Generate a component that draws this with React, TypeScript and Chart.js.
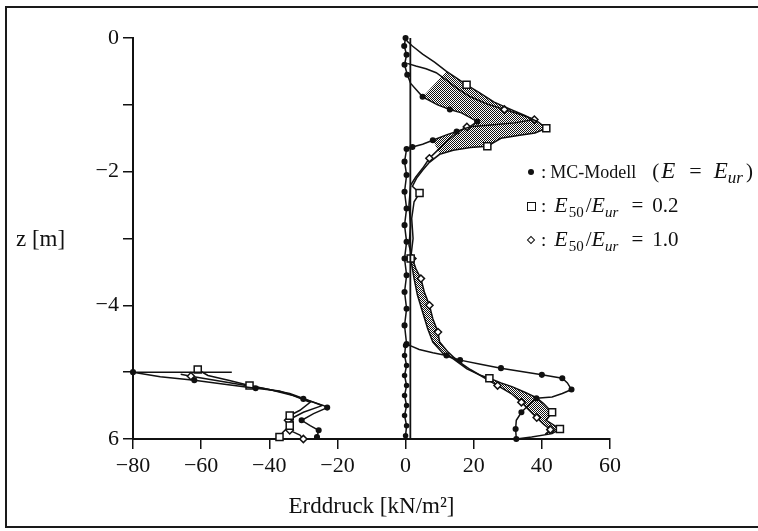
import React, { useEffect, useRef } from 'react';
import { Chart, registerables } from 'chart.js';

Chart.register(...registerables);

type P = [number, number];

const SERIF = '"Liberation Serif", "DejaVu Serif", serif';

// axis ticks
const xTickValues = [-80, -60, -40, -20, 0, 20, 40, 60];
const xTickLabels = ['−80', '−60', '−40', '−20', '0', '20', '40', '60'];
const yTickValues = [0, -1, -2, -3, -4, -5, -6];
const yTickLabels = ['0', '', '−2', '', '−4', '', '6'];

// MC-Modell (E = Eur), filled dots — [earth pressure kN/m², z m]
const mcRight: P[] = [
  [0, 0], [-0.4, -0.12], [0.3, -0.25], [-0.3, -0.4], [0.5, -0.55], [1.5, -0.68],
  [5, -0.88], [9.4, -1.0], [13, -1.07], [16.4, -1.12], [19, -1.19], [21, -1.25],
  [18.8, -1.33], [15, -1.4], [12, -1.45], [8, -1.53], [5, -1.59], [2, -1.63],
  [0.3, -1.66], [-0.3, -1.85], [0.3, -2.05], [-0.3, -2.3], [0.3, -2.55], [-0.3, -2.8],
  [0.3, -3.05], [-0.3, -3.3], [0.3, -3.55], [-0.3, -3.8], [0.3, -4.05], [-0.3, -4.3],
  [0.3, -4.58], [4, -4.66], [8, -4.71], [12, -4.75], [16, -4.82], [22, -4.88],
  [28, -4.94], [34, -4.99], [40, -5.04], [46, -5.09], [47.5, -5.16], [48.7, -5.26],
  [46, -5.32], [43, -5.37], [38.4, -5.39], [36, -5.5], [34, -5.6], [32.5, -5.72],
  [32.3, -5.85], [32.5, -6.0],
];
const mcColumn: P[] = [
  [0, -4.6], [-0.3, -4.75], [0.3, -4.9], [-0.3, -5.05], [0.3, -5.2], [-0.3, -5.35],
  [0.3, -5.5], [-0.3, -5.65], [0.3, -5.8], [0, -5.95],
];
const mcLeft: P[] = [
  [-51, -5.0], [-80, -5.0], [-72, -5.07], [-62, -5.12], [-52, -5.19], [-44, -5.24],
  [-37, -5.28], [-30, -5.4], [-24, -5.5], [-23, -5.53], [-27, -5.62], [-30.5, -5.72],
  [-28, -5.8], [-25.5, -5.87], [-26, -5.97],
];

// E50/Eur = 0.2, squares
const s02Right: P[] = [
  [0, 0], [0.5, -0.05], [2, -0.12], [5, -0.24], [8.5, -0.36], [12, -0.5], [15, -0.6],
  [17.9, -0.7], [22, -0.83], [26, -0.96], [30, -1.05], [35, -1.16], [39, -1.26],
  [41.3, -1.35], [38, -1.42], [33, -1.46], [28, -1.5], [24, -1.62], [19, -1.64],
  [14, -1.68], [10, -1.74], [7, -1.86], [5, -1.98], [3.2, -2.1], [2, -2.22],
  [4.1, -2.32], [2.5, -2.45], [1.8, -2.7], [2.2, -3.0], [1.5, -3.3], [2.5, -3.6],
  [3.5, -3.85], [5, -4.1], [6.5, -4.35], [8, -4.55], [11, -4.72], [14, -4.8],
  [18, -4.95], [21.7, -5.04], [24.6, -5.09], [28, -5.16], [31.4, -5.22], [35, -5.3],
  [38.4, -5.38], [40.5, -5.47], [43, -5.6], [41.3, -5.72], [45.3, -5.85], [43, -5.92],
  [37, -5.97], [32.5, -6.0],
];
const s02Left: P[] = [
  [-61, -4.96], [-58, -5.05], [-52, -5.12], [-45.8, -5.2], [-40, -5.26], [-33, -5.35],
  [-28, -5.45], [-31, -5.57], [-34, -5.65], [-33, -5.73], [-34, -5.8], [-36, -5.9],
  [-37, -5.97],
];

// E50/Eur = 1.0, diamonds
const d10Right: P[] = [
  [0.5, -0.38], [3, -0.42], [6, -0.46], [9, -0.52], [12, -0.63], [15, -0.75],
  [19, -0.88], [24, -0.99], [29, -1.07], [34, -1.15], [37.8, -1.22], [32, -1.27],
  [25, -1.3], [18, -1.33], [15, -1.42], [12, -1.55], [9, -1.7], [7, -1.8], [5, -1.95],
  [3, -2.08], [1.5, -2.2], [1, -2.5], [1.5, -2.8], [1, -3.1], [2, -3.3], [3, -3.45],
  [4.5, -3.6], [5.5, -3.8], [7, -4.0], [8, -4.2], [9.5, -4.4], [10, -4.55],
  [12.5, -4.7], [15, -4.82], [19, -4.96], [23, -5.08], [27, -5.2], [31, -5.32],
  [34, -5.45], [36.5, -5.58], [38.5, -5.68], [40.5, -5.78], [42.5, -5.86], [41, -5.93],
];
const d10Left: P[] = [
  [-66, -5.03], [-63, -5.06], [-56, -5.12], [-49, -5.18], [-42, -5.24], [-34, -5.32],
  [-27, -5.45], [-24.5, -5.5], [-30, -5.6], [-34.5, -5.72], [-33, -5.8], [-34, -5.87],
  [-31, -5.94], [-30, -6.0],
];

// wall line
const wallLine: P[] = [[1.4, 0], [1.4, -6]];

// which points carry a marker
const mcRightMarks = [0, 1, 2, 3, 4, 6, 8, 11, 13, 15, 17, 18, 19, 20, 21, 22, 23, 24, 25, 26, 27, 28, 29, 30, 33, 34, 36, 38, 39, 41, 44, 46, 48, 49];
const mcColumnMarks = [0, 1, 2, 3, 4, 5, 6, 7, 8, 9];
const mcLeftMarks = [1, 3, 5, 7, 9, 11, 13, 14];
const s02RightMarks = [7, 13, 17, 25, 29, 39, 45, 47];
const s02LeftMarks = [0, 3, 8, 10, 12];
const d10RightMarks = [8, 10, 13, 17, 24, 26, 28, 30, 36, 38, 40, 42];
const d10LeftMarks = [1, 9, 11, 13];

// shaded regions, built from the curves
const hatchTop: P[] = [...s02Right.slice(5, 21), ...mcRight.slice(6, 16).reverse()];
const hatchBottom: P[] = [...s02Right.slice(29, 49), ...d10Right.slice(24, 44).reverse()];

const legendRatios = ['0.2', '1.0'];

const toXY = (pts: P[]) => pts.map(([x, y]) => ({ x, y }));

function makeHatch(ctx: CanvasRenderingContext2D) {
  const c = document.createElement('canvas');
  c.width = 2;
  c.height = 2;
  const g = c.getContext('2d')!;
  g.fillStyle = '#ffffff';
  g.fillRect(0, 0, 2, 2);
  g.fillStyle = '#111111';
  g.fillRect(0, 0, 1, 1);
  g.fillRect(1, 1, 1, 1);
  return ctx.createPattern(c, 'repeat');
}

const INK = '#111111';

function curve(pts: P[], marks: number[], style: 'circle' | 'rect' | 'rectRot', radius: number, filled: boolean) {
  return {
    type: 'line' as const,
    data: toXY(pts),
    borderColor: INK,
    borderWidth: 1.5,
    tension: 0,
    fill: false,
    clip: false,
    order: 1,
    pointStyle: style,
    pointRadius: (c: any) => (marks.includes(c.dataIndex) ? radius : 0),
    pointBorderWidth: 1.5,
    pointBorderColor: INK,
    pointBackgroundColor: filled ? INK : '#ffffff',
  };
}

function shade(pts: P[], pattern: any) {
  return {
    type: 'line' as const,
    data: toXY(pts),
    borderColor: 'rgba(0,0,0,0)',
    borderWidth: 0,
    backgroundColor: pattern,
    fill: 'shape',
    tension: 0,
    clip: false,
    order: 10,
    pointRadius: 0,
  };
}

export default function App() {
  const ref = useRef<HTMLCanvasElement>(null);

  useEffect(() => {
    const canvas = ref.current!;
    const ctx = canvas.getContext('2d')!;
    const hatch = makeHatch(ctx);
    const tickFont = { family: SERIF, size: 22 };

    const chart = new Chart(canvas, {
      type: 'line',
      data: {
        datasets: [
          shade(hatchTop, hatch),
          shade(hatchBottom, hatch),
          { ...curve(wallLine, [], 'circle', 0, true), borderWidth: 1.8 },
          curve(mcColumn, mcColumnMarks, 'circle', 2, true),
          curve(mcRight, mcRightMarks, 'circle', 2.3, true),
          curve(mcLeft, mcLeftMarks, 'circle', 2.3, true),
          curve(s02Right, s02RightMarks, 'rect', 5, false),
          curve(s02Left, s02LeftMarks, 'rect', 5, false),
          curve(d10Right, d10RightMarks, 'rectRot', 3.6, false),
          curve(d10Left, d10LeftMarks, 'rectRot', 3.6, false),
        ] as any,
      },
      options: {
        animation: false,
        responsive: false,
        devicePixelRatio: 1,
        events: [],
        layout: { padding: { left: 0, top: 38, right: 148, bottom: 0 } },
        plugins: { legend: { display: false }, tooltip: { enabled: false }, title: { display: false } },
        scales: {
          x: {
            type: 'linear',
            min: -80,
            max: 60,
            afterFit: (s: any) => { s.height = 92; },
            ticks: {
              stepSize: 20,
              autoSkip: false,
              maxRotation: 0,
              padding: 4,
              color: INK,
              font: tickFont,
              callback: (v: any) => {
                const i = xTickValues.indexOf(Number(v));
                return i >= 0 ? xTickLabels[i] : '';
              },
            },
            grid: { display: true, drawOnChartArea: false, drawTicks: true, tickLength: 10, color: INK, lineWidth: 1.5 },
            border: { display: true, color: INK, width: 2 },
          },
          y: {
            type: 'linear',
            min: -6,
            max: 0,
            afterFit: (s: any) => { s.width = 133; },
            ticks: {
              stepSize: 1,
              autoSkip: false,
              padding: 4,
              color: INK,
              font: tickFont,
              callback: (v: any) => {
                const i = yTickValues.indexOf(Number(v));
                return i >= 0 ? yTickLabels[i] : '';
              },
            },
            grid: { display: true, drawOnChartArea: false, drawTicks: true, tickLength: 10, color: INK, lineWidth: 1.5 },
            border: { display: true, color: INK, width: 2 },
          },
        },
      } as any,
    });
    return () => chart.destroy();
  }, []);

  const legendRowY = [172, 206, 240];
  const subIt = { fontSize: 15, position: 'relative' as const, top: 5, fontStyle: 'italic' as const };
  const subUp = { fontSize: 15, position: 'relative' as const, top: 5, marginLeft: 1 };
  const mathE = { fontStyle: 'italic' as const, fontSize: 22 };

  return (
    <div style={{ position: 'fixed', left: 0, top: 0, width: 758, height: 531, overflow: 'hidden', background: '#ffffff', fontFamily: SERIF, color: INK }}>
      <div style={{ position: 'absolute', left: 5, top: 6, width: 900, height: 522, boxSizing: 'border-box', borderTop: '2px solid #1a1a1a', borderLeft: '2px solid #1a1a1a', borderBottom: '2px solid #1a1a1a' }} />
      <canvas ref={ref} width={758} height={531} style={{ position: 'absolute', left: 0, top: 0, width: 758, height: 531 }} />

      <div style={{ position: 'absolute', left: 16, top: 225, fontSize: 23, lineHeight: '28px', whiteSpace: 'nowrap' }}>z [m]</div>
      <div style={{ position: 'absolute', left: 133, width: 477, top: 492, fontSize: 23, lineHeight: '28px', textAlign: 'center', whiteSpace: 'nowrap' }}>
        Erddruck [kN/m²]
      </div>

      {/* legend markers */}
      <div style={{ position: 'absolute', left: 528, top: legendRowY[0] - 3, width: 6, height: 6, borderRadius: 3, background: INK }} />
      <div style={{ position: 'absolute', left: 527, top: legendRowY[1] - 4, width: 9, height: 9, boxSizing: 'border-box', border: '1.5px solid ' + INK }} />
      <div style={{ position: 'absolute', left: 528, top: legendRowY[2] - 3, width: 6, height: 6, boxSizing: 'border-box', border: '1.5px solid ' + INK, transform: 'rotate(45deg)' }} />

      <div style={{ position: 'absolute', left: 541, top: legendRowY[0] - 13, fontSize: 19, lineHeight: '24px', whiteSpace: 'nowrap' }}>
        <span>:</span>
        <span style={{ marginLeft: 4, fontSize: 18 }}>MC-Modell</span>
        <span style={{ marginLeft: 16, fontSize: 21 }}>(</span>
        <span style={{ ...mathE, fontSize: 23, marginLeft: 2 }}>E</span>
        <span style={{ marginLeft: 14, fontSize: 22 }}>=</span>
        <span style={{ ...mathE, fontSize: 23, marginLeft: 12 }}>E</span>
        <span style={{ ...subIt, fontSize: 17 }}>ur</span>
        <span style={{ marginLeft: 3, fontSize: 21 }}>)</span>
      </div>
      {legendRatios.map((r, k) => (
        <div key={r} style={{ position: 'absolute', left: 541, top: legendRowY[k + 1] - 13, fontSize: 19, lineHeight: '24px', whiteSpace: 'nowrap' }}>
          <span>:</span>
          <span style={{ ...mathE, marginLeft: 8 }}>E</span>
          <span style={subUp}>50</span>
          <span style={{ marginLeft: 2, fontSize: 21 }}>/</span>
          <span style={mathE}>E</span>
          <span style={subIt}>ur</span>
          <span style={{ marginLeft: 13, fontSize: 21 }}>=</span>
          <span style={{ marginLeft: 9, fontSize: 21 }}>{r}</span>
        </div>
      ))}
    </div>
  );
}
